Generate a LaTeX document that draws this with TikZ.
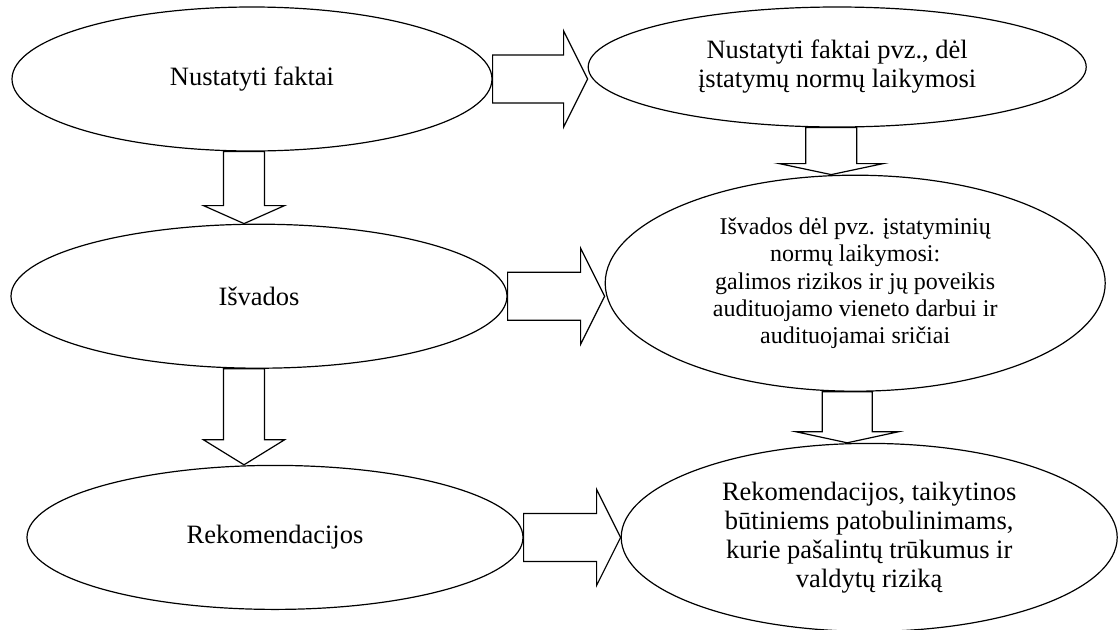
\documentclass[tikz,border=0pt]{standalone}
\usepackage{fontspec}
\setmainfont{Liberation Serif}
\usetikzlibrary{calc, positioning, shapes.geometric}

\begin{document}
\begin{tikzpicture}[x=0.5pt, y=0.5pt, line width=0.6pt,
  bubble/.style={draw, ellipse, inner sep=0pt, align=center, font=\fontsize{13.25}{14.5}\selectfont},
  rblock/.style={to path={let \p1=(\tikztostart), \p2=(\tikztotarget) in
    (\x1,\y1+12pt) -- (\x2-12pt,\y1+12pt) -- (\x2-12pt,\y1+24pt) -- (\x2,\y1)
    -- (\x2-12pt,\y1-24pt) -- (\x2-12pt,\y1-12pt) -- (\x1,\y1-12pt) -- cycle}},
  dblock/.style n args={3}{to path={let \p1=(\tikztostart), \p2=(\tikztotarget) in
    (\x2-#1,\y1) -- (\x2-#1,\y2+#3) -- (\x2-#2,\y2+#3) -- (\x2,\y2)
    -- (\x2+#2,\y2+#3) -- (\x2+#1,\y2+#3) -- (\x2+#1,\y1) -- cycle}}]

  \useasboundingbox (0,0) rectangle (1118,629);

  % Kairysis stulpelis
  \node [bubble, minimum width=240pt, minimum height=72pt] (fakt) at (252,550) {Nustatyti faktai};
  \node [bubble, minimum width=248pt, minimum height=72pt, below=36pt of fakt, xshift=3.5pt] (isv) {Išvados};
  \node [bubble, minimum width=248pt, minimum height=72pt, below=48pt of isv, xshift=8pt] (rek) {Rekomendacijos};

  % Dešinysis stulpelis
  \node [bubble, minimum width=249pt, minimum height=60pt, right=47.5pt of fakt, yshift=6pt] (faktd)
    {Nustatyti faktai pvz., dėl\\ įstatymų normų laikymosi};
  \node [bubble, minimum width=250pt, minimum height=108pt, right=48.5pt of isv, yshift=6.5pt,
    font=\fontsize{12}{13.65}\selectfont] (isvd)
    {Išvados dėl pvz. įstatyminių\\ normų laikymosi:\\ galimos rizikos ir jų poveikis\\ audituojamo vieneto darbui ir\\ audituojamai sričiai};
  \node [bubble, minimum width=248pt, minimum height=94pt, right=48.5pt of rek] (rekd)
    {Rekomendacijos, taikytinos\\ būtiniems patobulinimams,\\ kurie pašalintų trūkumus ir\\ valdytų riziką};

  % Rodyklės į dešinę
  \draw [rblock] (fakt.east) to (fakt.east -| faktd.west);
  \draw [rblock] (isv.east) to (isv.east -| isvd.west);
  \draw [rblock] (rek.east) to (rek.east -| rekd.west);

  % Rodyklės žemyn
  \draw [dblock={10.25pt}{20.25pt}{9pt}] (fakt.south) to ([xshift=-7.5pt]isv.north);
  \draw [dblock={10.25pt}{20.25pt}{12.5pt}] (isv.south) to ([xshift=-15.5pt]rek.north);
  \draw [dblock={12.75pt}{26pt}{5.5pt}] (faktd.south) to ([xshift=-12pt]isvd.north);
  \draw [dblock={12.5pt}{25.5pt}{5.5pt}] (isvd.south) to ([xshift=-11pt]rekd.north);
\end{tikzpicture}
\end{document}
